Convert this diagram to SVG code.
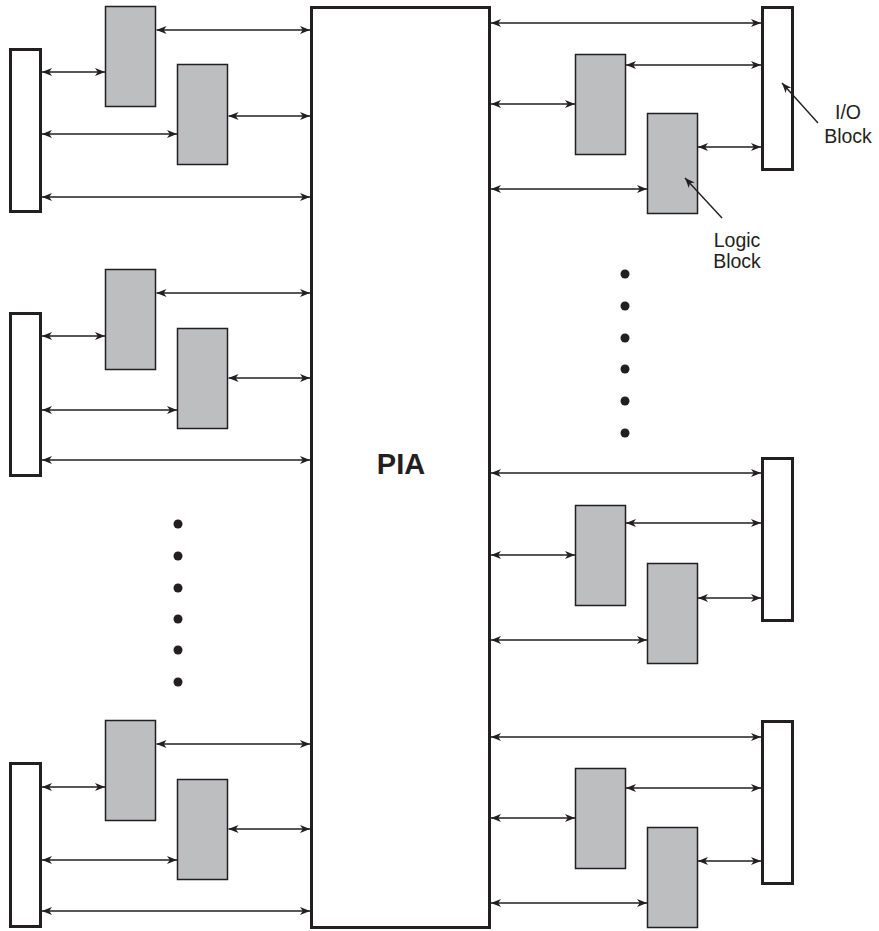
<svg xmlns="http://www.w3.org/2000/svg" width="879" height="931" viewBox="0 0 879 931">
<style>
.io{fill:#fff;stroke:#231f20;stroke-width:3}
.lb{fill:#bcbec0;stroke:#231f20;stroke-width:1.5}
.pia{fill:#fff;stroke:#231f20;stroke-width:3}
.c line{stroke:#231f20;stroke-width:1.4;marker-start:url(#ah);marker-end:url(#ah)}
.p{stroke:#231f20;stroke-width:1.4;fill:none;marker-end:url(#ah)}
.dot{fill:#231f20}
text{font-family:"Liberation Sans",Arial,Helvetica,sans-serif;fill:#231f20}
.lbl{font-size:19.5px;text-anchor:middle}
</style>
<defs>
<marker id="ah" viewBox="0 0 10 8" refX="10" refY="4" markerWidth="10" markerHeight="8" markerUnits="userSpaceOnUse" orient="auto-start-reverse">
<path d="M0,0 L10,4 L0,8 L2.8,4 z" fill="#231f20"/>
</marker>
</defs>
<g id="pia"><rect class="pia" x="311.5" y="7.5" width="178" height="920"/><text x="401" y="474" font-size="29" font-weight="bold" text-anchor="middle">PIA</text></g>
<g id="io-l1"><rect class="io" x="10.5" y="49.5" width="30" height="162"/></g>
<g id="lb-l1a"><rect class="lb" x="105.5" y="6.5" width="50" height="100"/></g>
<g id="lb-l1b"><rect class="lb" x="177.5" y="64.5" width="50" height="100"/></g>
<g id="io-l2"><rect class="io" x="10.5" y="313.5" width="30" height="162"/></g>
<g id="lb-l2a"><rect class="lb" x="105.5" y="269.5" width="50" height="100"/></g>
<g id="lb-l2b"><rect class="lb" x="177.5" y="328.5" width="50" height="100"/></g>
<g id="io-l3"><rect class="io" x="10.5" y="763.5" width="30" height="163"/></g>
<g id="lb-l3a"><rect class="lb" x="105.5" y="720.5" width="50" height="100"/></g>
<g id="lb-l3b"><rect class="lb" x="177.5" y="779.5" width="50" height="100"/></g>
<g id="io-r1"><rect class="io" x="762.5" y="7.5" width="30" height="162"/></g>
<g id="lb-r1a"><rect class="lb" x="575.5" y="54.5" width="50" height="100"/></g>
<g id="lb-r1b"><rect class="lb" x="647.5" y="113.5" width="50" height="100"/></g>
<g id="io-r2"><rect class="io" x="762.5" y="458.5" width="30" height="162"/></g>
<g id="lb-r2a"><rect class="lb" x="575.5" y="505.5" width="50" height="100"/></g>
<g id="lb-r2b"><rect class="lb" x="647.5" y="563.5" width="50" height="100"/></g>
<g id="io-r3"><rect class="io" x="762.5" y="721.5" width="30" height="162"/></g>
<g id="lb-r3a"><rect class="lb" x="575.5" y="768.5" width="50" height="100"/></g>
<g id="lb-r3b"><rect class="lb" x="647.5" y="827.5" width="50" height="100"/></g>
<g id="connectors" class="c">
<line x1="156.5" y1="30" x2="310" y2="30"/>
<line x1="42" y1="72" x2="105" y2="72"/>
<line x1="228.5" y1="116" x2="310" y2="116"/>
<line x1="42" y1="134" x2="177" y2="134"/>
<line x1="42" y1="197" x2="310" y2="197"/>
<line x1="156.5" y1="293" x2="310" y2="293"/>
<line x1="42" y1="336" x2="105" y2="336"/>
<line x1="228.5" y1="378" x2="310" y2="378"/>
<line x1="42" y1="410" x2="177" y2="410"/>
<line x1="42" y1="460" x2="310" y2="460"/>
<line x1="156.5" y1="744" x2="310" y2="744"/>
<line x1="42" y1="787" x2="105" y2="787"/>
<line x1="228.5" y1="829" x2="310" y2="829"/>
<line x1="42" y1="860" x2="177" y2="860"/>
<line x1="42" y1="911" x2="310" y2="911"/>
<line x1="491" y1="23" x2="761" y2="23"/>
<line x1="626" y1="65" x2="761" y2="65"/>
<line x1="491" y1="104" x2="575" y2="104"/>
<line x1="698" y1="147" x2="761" y2="147"/>
<line x1="491" y1="189" x2="647" y2="189"/>
<line x1="491" y1="473" x2="761" y2="473"/>
<line x1="626" y1="523" x2="761" y2="523"/>
<line x1="491" y1="555" x2="575" y2="555"/>
<line x1="698" y1="598" x2="761" y2="598"/>
<line x1="491" y1="640" x2="647" y2="640"/>
<line x1="491" y1="737" x2="761" y2="737"/>
<line x1="626" y1="788" x2="761" y2="788"/>
<line x1="491" y1="818" x2="575" y2="818"/>
<line x1="698" y1="861" x2="761" y2="861"/>
<line x1="491" y1="903" x2="647" y2="903"/>
</g>
<g id="dots">
<circle class="dot" cx="178" cy="524" r="4.5"/><circle class="dot" cx="178" cy="556" r="4.5"/><circle class="dot" cx="178" cy="588" r="4.5"/><circle class="dot" cx="178" cy="619" r="4.5"/><circle class="dot" cx="178" cy="650" r="4.5"/><circle class="dot" cx="178" cy="682" r="4.5"/>
<circle class="dot" cx="625" cy="274" r="4.5"/><circle class="dot" cx="625" cy="306" r="4.5"/><circle class="dot" cx="625" cy="338" r="4.5"/><circle class="dot" cx="625" cy="369" r="4.5"/><circle class="dot" cx="625" cy="401" r="4.5"/><circle class="dot" cx="625" cy="433" r="4.5"/>
</g>
<g id="label-io"><line class="p" x1="818" y1="123" x2="782" y2="83"/><text class="lbl" x="848" y="119">I/O</text><text class="lbl" x="848" y="142.5">Block</text></g>
<g id="label-logic"><line class="p" x1="722" y1="218" x2="685" y2="178"/><text class="lbl" x="737" y="246.5">Logic</text><text class="lbl" x="737" y="268">Block</text></g>
</svg>
